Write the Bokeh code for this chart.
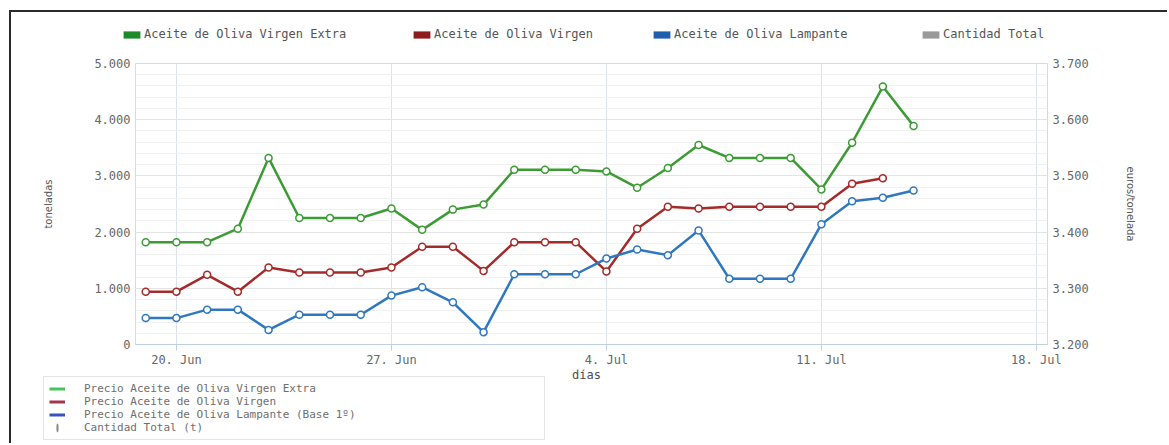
import pandas as pd
from bokeh.plotting import figure
from bokeh.layouts import column, row
from bokeh.models import (Range1d, LinearAxis, FixedTicker, CustomJSTickFormatter,
                          Legend, LegendItem, ColumnDataSource, Label, Div, Spacer)
from bokeh.embed import file_html
from bokeh.resources import INLINE

# ---------------- data ----------------
dates = pd.date_range("2016-06-19", "2016-07-14", freq="D")

precio_virgen_extra = [3382, 3382, 3382, 3406, 3532, 3425, 3425, 3425, 3442, 3404,
                       3440, 3449, 3511, 3511, 3511, 3508, 3479, 3514, 3555, 3532,
                       3532, 3532, 3476, 3559, 3659, 3589]
precio_virgen = [3294, 3294, 3324, 3294, 3337, 3328, 3328, 3328, 3337, 3374,
                 3374, 3331, 3382, 3382, 3382, 3330, 3406, 3445, 3442, 3445,
                 3445, 3445, 3445, 3486, 3496]
precio_lampante = [3247, 3247, 3262, 3262, 3226, 3253, 3253, 3253, 3287, 3302,
                   3275, 3222, 3325, 3325, 3325, 3353, 3369, 3359, 3403, 3317,
                   3317, 3317, 3414, 3455, 3461, 3474]

tick_dates = ["2016-06-20", "2016-06-27", "2016-07-04", "2016-07-11", "2016-07-18"]
left_ticks = [0, 1000, 2000, 3000, 4000, 5000]
left_minor = [v for v in range(0, 5001, 200)]
right_ticks = [3200, 3300, 3400, 3500, 3600, 3700]

top_names = ["Aceite de Oliva Virgen Extra", "Aceite de Oliva Virgen",
             "Aceite de Oliva Lampante", "Cantidad Total"]
bottom_names = ["Precio Aceite de Oliva Virgen Extra", "Precio Aceite de Oliva Virgen",
                "Precio Aceite de Oliva Lampante (Base 1º)", "Cantidad Total (t)"]

GREEN, RED, BLUE, GRAY = "#3d9b35", "#a52a2a", "#2f78c0", "#8a8a8a"
ICON = ["#1e8a2a", "#8e1c1c", "#1f5fae", "#9a9a9a"]
LEG_LINE = ["#45c45a", "#a8324a", "#3552c0"]
FONT = "DejaVu Sans"
MONO = "DejaVu Sans Mono"
W = 1156

def blank(h):
    f = figure(width=W, height=h, x_range=Range1d(0, W), y_range=Range1d(0, h),
               min_border=0, toolbar_location=None, output_backend="svg",
               x_axis_location=None, y_axis_location=None)
    f.frame_align = False
    f.grid.visible = False
    f.outline_line_color = None
    f.background_fill_color = "white"
    f.border_fill_color = "white"
    return f

# ---------------- top legend strip ----------------
TOP_H = 40
top = blank(TOP_H)
icon_x = [110, 400, 640, 909]
for name, col, xp in zip(top_names, ICON, icon_x):
    box = top.vbar(x=[-50], top=[-50], bottom=[-60], width=1, fill_color=col, line_color=None)
    leg = Legend(items=[LegendItem(label=name, renderers=[box])],
                 location=(xp, 11), orientation="horizontal",
                 glyph_width=21, glyph_height=9, label_standoff=2, padding=0, margin=0,
                 border_line_color=None, background_fill_alpha=0,
                 label_text_font_size="12px", label_text_color="#555555",
                 label_text_font=MONO, label_height=9)
    top.add_layout(leg, "center")

# ---------------- main chart ----------------
MAIN_H = 317
p = figure(width=W, height=MAIN_H, x_axis_type="datetime",
           x_range=Range1d(pd.Timestamp("2016-06-18 16:00"), pd.Timestamp("2016-07-18 08:40")),
           y_range=Range1d(0, 5000),
           output_backend="svg", toolbar_location=None,
           min_border_left=124, min_border_right=120, min_border_top=11, min_border_bottom=24)
p.frame_align = False
p.extra_y_ranges = {"price": Range1d(3200, 3700)}
p.outline_line_color = "#d9d9d9"
p.background_fill_color = "white"
p.border_fill_color = "white"

xt = FixedTicker(ticks=[pd.Timestamp(d).value // 10**6 for d in tick_dates])
p.xaxis.ticker = xt
p.xgrid.ticker = xt
p.xgrid.grid_line_color = "#dde3ec"
p.xaxis.formatter = CustomJSTickFormatter(code="""
const m = ['Jan','Feb','Mar','Apr','May','Jun','Jul','Aug','Sep','Oct','Nov','Dec'];
const d = new Date(tick);
return d.getUTCDate() + '. ' + m[d.getUTCMonth()];
""")
p.xaxis.axis_line_color = "#c0d0e0"
p.xaxis.major_tick_line_color = "#c0d0e0"
p.xaxis.major_tick_out = 6
p.xaxis.major_tick_in = 0
p.xaxis.minor_tick_line_color = None
p.xaxis.major_label_standoff = 2

thousands = CustomJSTickFormatter(code="return Math.round(tick).toString().replace(/\\B(?=(\\d{3})+(?!\\d))/g, '.');")

yt = FixedTicker(ticks=left_ticks, minor_ticks=left_minor)
p.yaxis.ticker = yt
p.yaxis.formatter = thousands
p.ygrid.ticker = yt
p.ygrid.grid_line_color = "#e3e3e3"
p.ygrid.minor_grid_line_color = "#f1f1f1"
p.yaxis.axis_label = "toneladas"

ax_r = LinearAxis(y_range_name="price", ticker=FixedTicker(ticks=right_ticks),
                  formatter=thousands, axis_label="euros/tonelada")
p.add_layout(ax_r, "right")

for ax in [p.yaxis[0], ax_r]:
    ax.axis_line_color = None
    ax.major_tick_line_color = None
    ax.minor_tick_line_color = None
    ax.major_tick_out = 0
    ax.major_tick_in = 0
    ax.minor_tick_out = 0
    ax.major_label_standoff = 5
    ax.axis_label_text_font_size = "10px"
    ax.axis_label_text_font_style = "normal"
    ax.axis_label_text_color = "#555555"
    ax.axis_label_text_font = FONT
p.yaxis[0].axis_label_standoff = 37
ax_r.axis_label_standoff = 33

for ax in [p.xaxis[0], p.yaxis[0], ax_r]:
    ax.major_label_text_font_size = "12px"
    ax.major_label_text_color = "#666666"
    ax.major_label_text_font = MONO

for vals, col in [(precio_virgen_extra, GREEN), (precio_virgen, RED), (precio_lampante, BLUE)]:
    src = ColumnDataSource(dict(x=dates[:len(vals)], y=vals))
    p.line("x", "y", source=src, y_range_name="price", line_color=col, line_width=2.5)
    p.scatter("x", "y", source=src, y_range_name="price", size=7, marker="circle",
              line_color=col, fill_color="white", line_width=1.5)

# ---------------- bottom strip: axis title + legend ----------------
BOT_H = 74
bot = blank(BOT_H)
bot.add_layout(Label(x=575, y=BOT_H - 5, text="días", text_align="center",
                     text_baseline="middle", text_font_size="12px",
                     text_color="#4d4d4d", text_font=MONO))
leg_r = [bot.line(x=[-50, -40], y=[-50, -50], line_color=c, line_width=3) for c in LEG_LINE]
leg_r.append(bot.ellipse(x=[-50], y=[-50], width=2, height=8, width_units="screen",
                         height_units="screen", fill_color=GRAY, line_color=None))
leg_b = Legend(items=[LegendItem(label=n, renderers=[r]) for n, r in zip(bottom_names, leg_r)],
               location=(32, 3), orientation="vertical",
               glyph_width=16, glyph_height=11, label_height=11, spacing=0, padding=5, margin=0,
               label_standoff=19, label_width=455, label_text_line_height=1.0,
               border_line_color="#cccccc", border_line_width=1, background_fill_color="white",
               label_text_font_size="11px", label_text_color="#6e6e6e", label_text_font=MONO)
bot.add_layout(leg_b, "center")

# ---------------- frame lines & layout ----------------
bar_top = Div(width=W + 2, height=2, margin=0, styles={"background-color": "#2b2b2b"})
bar_left = Div(width=2, height=TOP_H + MAIN_H + BOT_H, margin=0,
               styles={"background-color": "#2b2b2b"})
inner = column(top, p, bot, spacing=0)
layout = column(Spacer(height=10),
                row(Spacer(width=9), bar_top, spacing=0),
                row(Spacer(width=9), bar_left, inner, spacing=0),
                spacing=0)

open("out.html", "w").write(file_html(layout, INLINE))
